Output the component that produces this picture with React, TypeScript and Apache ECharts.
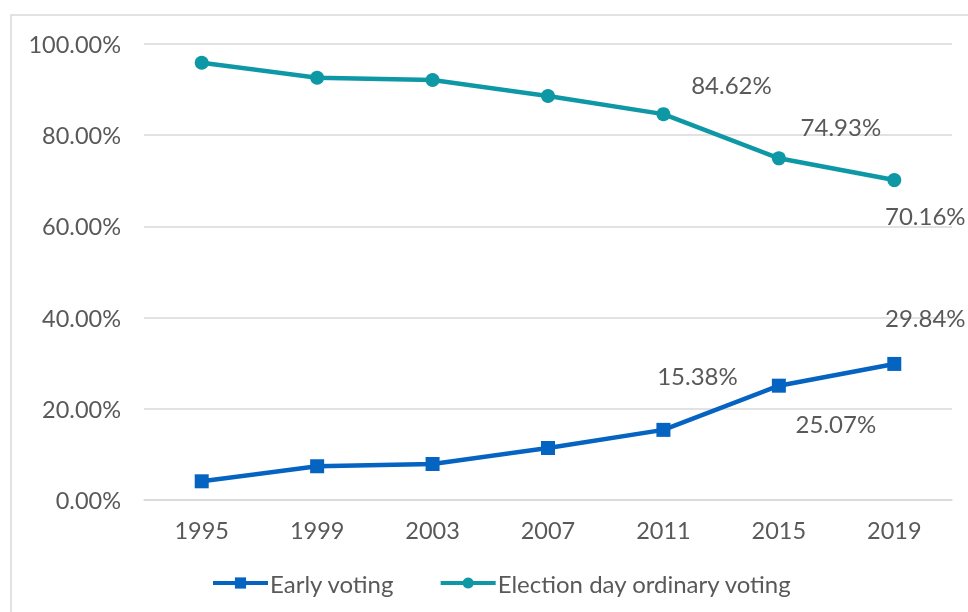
import React, { useEffect, useRef } from "react";
import * as echarts from "echarts";

const years = ["1995", "1999", "2003", "2007", "2011", "2015", "2019"];
const earlyVoting = [4.1, 7.4, 7.9, 11.4, 15.38, 25.07, 29.84];
const electionDay = [95.9, 92.6, 92.1, 88.6, 84.62, 74.93, 70.16];
const earlyLabelIdx = [4, 5, 6];
const electionLabelIdx = [4, 5, 6];
const earlyOffsets: Record<number, [number, number]> = { 4: [34, -54], 5: [57, 38], 6: [31, -46] };
const electionOffsets: Record<number, [number, number]> = { 4: [68, -30], 5: [62, -32], 6: [31, 35] };

const textColor = "#595959";
const font = "Lato, 'Open Sans', sans-serif";
const fs = 24;
const axisFs = 23.5;

function buildData(values: number[], idx: number[], offsets: Record<number, [number, number]>) {
  return values.map((v, i) =>
    idx.includes(i)
      ? {
          value: v,
          label: {
            show: true,
            position: "inside",
            offset: offsets[i],
            formatter: (p: any) => p.value.toFixed(2) + "%",
            color: textColor,
            fontSize: fs,
            fontFamily: font,
          },
        }
      : { value: v }
  );
}

export default function App() {
  const ref = useRef<HTMLDivElement>(null);
  useEffect(() => {
    const chart = echarts.init(ref.current!, null, { renderer: "svg" });
    chart.setOption({
      animation: false,
      textStyle: { fontFamily: font },
      graphic: [
        {
          type: "rect",
          shape: { x: 11, y: 15, width: 970, height: 610 },
          style: { fill: "none", stroke: "#d9d9d9", lineWidth: 1.5 },
          silent: true,
        },
      ],
      grid: { left: 144, right: 16, top: 44, bottom: 112 },
      legend: {
        bottom: 12,
        left: 206,
        itemWidth: 55,
        itemHeight: 14,
        itemGap: 44,
        lineStyle: { width: 4 },
        textStyle: { color: textColor, fontSize: fs, fontFamily: font, padding: [0, 0, 0, -3] },
        data: ["Early voting", "Election day ordinary voting"],
      },
      xAxis: {
        type: "category",
        data: years,
        boundaryGap: true,
        axisLine: { show: true, lineStyle: { color: "#d9d9d9", width: 1.5 } },
        axisTick: { show: false },
        axisLabel: { color: textColor, fontSize: axisFs, fontFamily: font, margin: 18 },
      },
      yAxis: {
        type: "value",
        min: 0,
        max: 100,
        interval: 20,
        axisLine: { show: false },
        axisTick: { show: false },
        splitLine: { lineStyle: { color: "#d9d9d9", width: 1.5 } },
        axisLabel: {
          color: textColor,
          fontSize: axisFs,
          fontFamily: font,
          margin: 23,
          formatter: (v: number) => v.toFixed(2) + "%",
        },
      },
      series: [
        {
          name: "Early voting",
          type: "line",
          data: buildData(earlyVoting, earlyLabelIdx, earlyOffsets),
          symbol: "rect",
          symbolSize: 14,
          lineStyle: { color: "#0563C1", width: 4.5 },
          itemStyle: { color: "#0563C1" },
        },
        {
          name: "Election day ordinary voting",
          type: "line",
          data: buildData(electionDay, electionLabelIdx, electionOffsets),
          symbol: "circle",
          symbolSize: 14,
          lineStyle: { color: "#0E98A6", width: 4.5 },
          itemStyle: { color: "#0E98A6" },
        },
      ],
    });
    return () => chart.dispose();
  }, []);
  return (
    <div
      ref={ref}
      style={{ position: "fixed", left: 0, top: 0, width: 968, height: 612 }}
    />
  );
}
